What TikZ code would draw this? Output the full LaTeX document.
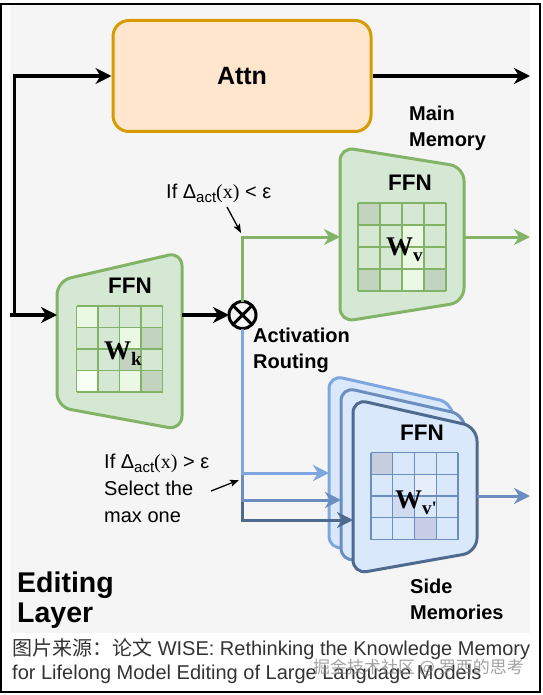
\documentclass[tikz,border=0pt]{standalone}
\usepackage{fontspec}
\setmainfont{Liberation Sans}
\newfontfamily\wfont{Liberation Serif}
\newfontfamily\cjk{Noto Sans CJK SC}
\usetikzlibrary{arrows.meta}

\definecolor{panel}{HTML}{F5F5F5}
\definecolor{attnfill}{HTML}{FFE6CC}
\definecolor{attnline}{HTML}{D79B00}
\definecolor{gfill}{HTML}{D5E8D4}
\definecolor{gline}{HTML}{82B366}
\definecolor{glight}{HTML}{EAF8E4}
\definecolor{gwhite}{HTML}{F8FFF5}
\definecolor{gdark}{HTML}{C2D4BF}
\definecolor{bfill}{HTML}{DAE8FC}
\definecolor{bline}{HTML}{6C8EBF}
\definecolor{blight}{HTML}{7EA6E0}
\definecolor{bdark}{HTML}{4F6A8F}
\definecolor{bgrey}{HTML}{C4CEDD}
\definecolor{bpale}{HTML}{E6EEFB}
\definecolor{bmid}{HTML}{CFDBEE}
\definecolor{bmauve}{HTML}{C9CDE5}
\definecolor{captext}{HTML}{333333}

\newcommand{\wlab}[1]{{\wfont\bfseries\fontsize{27}{27}\selectfont W\raisebox{-6pt}{\fontsize{19}{19}\selectfont #1}}}
\newcommand{\dact}{Δ\raisebox{-4pt}{\fontsize{15}{15}\selectfont act}{\wfont(x)}}

% 4x4 weight grid: x, y, cell, line colour, rows of cell colours
\newcommand{\cellgrid}[5]{%
  \foreach \crow [count=\rr from 0] in {#5} {
    \foreach \ccol [count=\qq from 0] in \crow
      \fill[\ccol] (#1+#3*\qq,#2+#3*\rr) rectangle ++(#3,#3);
  }
  \foreach \i in {0,...,4} {
    \draw[#4,line width=1.1pt] (#1+#3*\i,#2) -- ++(0,4*#3);
    \draw[#4,line width=1.1pt] (#1,#2+#3*\i) -- ++(4*#3,0);
  }
}

\begin{document}
\begin{tikzpicture}[x=1pt,y=-1pt,
    every node/.style={font=\fontsize{20}{27}\selectfont},
    lblbold/.style={font=\bfseries\fontsize{20}{26}\selectfont, align=left, anchor=base west, inner sep=0pt},
    lblplain/.style={align=left, anchor=base west, inner sep=0pt},
    ffnlbl/.style={font=\bfseries\fontsize{22.5}{22.5}\selectfont, anchor=base, inner sep=0pt},
    arr/.style={line width=3.5pt, -{Stealth[length=16pt,width=16pt,inset=5pt]}},
    garr/.style={arr, line width=3pt, color=gline},
    barr/.style={arr, line width=3pt},
    pointer/.style={line width=1.3pt, -{Stealth[length=9pt,width=7pt,inset=2pt]}},
    ffngreen/.style={draw=gline, fill=gfill, line width=3pt, rounded corners=14pt},
    sidecard/.style={fill=bfill, line width=3pt, rounded corners=14pt},
  ]
\useasboundingbox (0,0) rectangle (542,695);
\fill[panel] (10,5) rectangle (530,633);
\draw[line width=2pt] (1,4) rectangle (540,692);

% rows and rims
\coordinate (src) at (10,315);
\coordinate (split) at (14.5,315);
\coordinate (rim) at (530,0);
\coordinate (mainrow) at (0,237);
\coordinate (row1) at (0,473);
\coordinate (row2) at (0,500);
\coordinate (row3) at (0,520);
\coordinate (siderow) at (0,496);

% attention block
\node[draw=attnline, fill=attnfill, line width=3pt, rounded corners=16pt,
      minimum width=258pt, minimum height=111pt,
      font=\bfseries\fontsize{25}{25}\selectfont] (attn) at (242,76) {Attn};

% FFN with W_k
\coordinate (k1) at (57,281);
\coordinate (k2) at (182,252);
\coordinate (k3) at (182,430);
\coordinate (k4) at (57,407);
\draw[ffngreen] (k1) -- (k2) -- (k3) -- (k4) -- cycle;
\cellgrid{76.5}{306}{21.5}{gline}{{glight,gfill,gfill,gfill},{gfill,gfill,glight,gdark},{gfill,gfill,gdark,gfill},{gwhite,gfill,glight,gdark}}
\node[ffnlbl] (ffnk) at (130,293) {FFN};
\node[lblplain] (wk) at (104,359) {\wlab{k}};

% main memory FFN with W_v
\coordinate (v1) at (340,147);
\coordinate (v2) at (464,167);
\coordinate (v3) at (464,302);
\coordinate (v4) at (340,322);
\draw[ffngreen] (v1) -- (v2) -- (v3) -- (v4) -- cycle;
\cellgrid{358}{203}{22}{gline}{{gdark,gfill,gfill,gfill},{gfill,gfill,glight,gfill},{gfill,gfill,glight,gfill},{gdark,gfill,glight,gdark}}
\node[ffnlbl] (ffnv) at (410,190) {FFN};
\node[lblplain] (wv) at (386,255) {\wlab{v}};

% side memories
\foreach \dd/\cardline in {24/blight,12/bline,0/bdark}
  \draw[sidecard, draw=\cardline] (353-\dd,399-\dd) -- (477-\dd,427-\dd) -- (477-\dd,552-\dd) -- (353-\dd,574-\dd) -- cycle;
\coordinate (l1) at (329,375);
\coordinate (m1) at (341,387);
\coordinate (s1) at (353,399);
\coordinate (s2) at (477,427);
\cellgrid{371}{452.5}{21.75}{bline}{{bgrey,bfill,bfill,bfill},{bfill,bfill,bpale,bfill},{bfill,bmid,bfill,bfill},{bfill,bfill,bmauve,bfill}}
\node[ffnlbl] (ffns) at (422,440) {FFN};
\node[lblplain] (wvs) at (395,508) {\wlab{v{\char"27}}};

% routing
\node[circle, draw, line width=3pt, minimum size=27pt, inner sep=0pt, outer sep=0pt] (router) at (242.5,315) {};
\draw[line width=3pt] (router.north west) -- (router.south east)
                      (router.north east) -- (router.south west);

\draw[arr] (src) -- (k1 |- src);
\draw[arr] (split) |- (attn.west);
\draw[arr] (attn.east) -- (attn.east -| rim);
\draw[arr] (k2 |- router) -- (router.west);
\draw[garr] (router.north) |- (v1 |- mainrow);
\draw[garr] (v2 |- mainrow) -- (rim |- mainrow);
\draw[barr, bdark] (router.south) |- (s1 |- row3);
\draw[barr, bline] (router.south) |- (m1 |- row2);
\draw[barr, blight] (router.south) |- (l1 |- row1);
\draw[barr, bline] (s2 |- siderow) -- (rim |- siderow);

% labels (base of a multi-line node = its last line)
\node[lblbold] (mainmem) at (409,147) {Main\\Memory};
\node[lblbold] (routing) at (253,368) {Activation\\Routing};
\node[lblbold] (sidemem) at (410,619) {Side\\Memories};
\node[lblbold, font=\bfseries\fontsize{28.5}{30}\selectfont] (layer) at (17,622) {Editing\\Layer};
\node[lblplain] (condlt) at (166,198) {If \dact{} < ε};
\node[lblplain] (condgt) at (104,522) {If \dact{} > ε\\Select the\\max one};

\coordinate (tailA) at (227,207);
\coordinate (tipA) at (241,233);
\draw[pointer] (tailA) -- (tipA);
\coordinate (tailB) at (211,491);
\coordinate (tipB) at (239,480);
\draw[pointer] (tailB) -- (tipB);

% caption
\node[lblplain, text=captext, font=\fontsize{20}{24}\selectfont] (caption) at (12,679)
  {{\cjk 图片来源：论文} WISE: Rethinking the Knowledge Memory\\for Lifelong Model Editing of Large Language Models};
\node[lblplain, text=black!45, opacity=0.8, font=\fontsize{17}{17}\selectfont] (mark) at (313,673)
  {\cjk 掘金技术社区 @ 罗西的思考};
\end{tikzpicture}
\end{document}
